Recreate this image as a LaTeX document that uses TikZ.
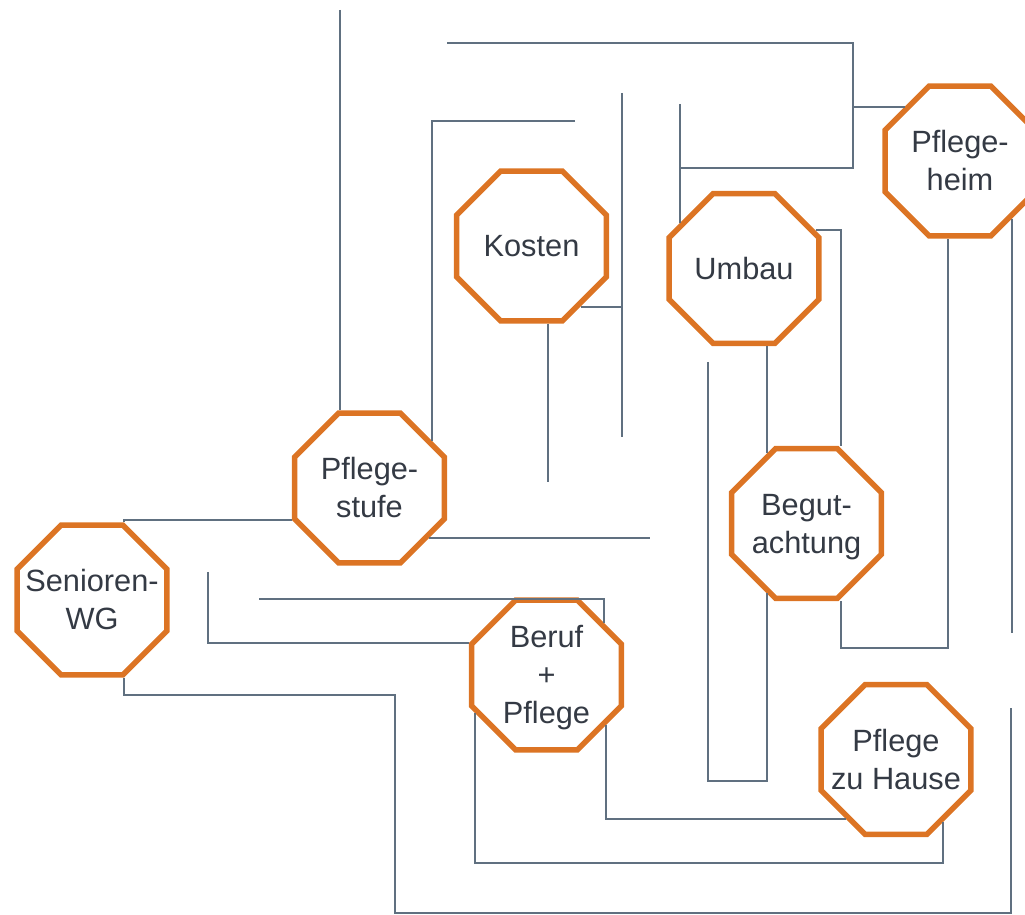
\documentclass[tikz,border=0pt]{standalone}
\usepackage{fontspec}
\setmainfont{Liberation Sans}
\usetikzlibrary{shapes.geometric}
\definecolor{octorange}{RGB}{220,116,36}
\definecolor{mazegrey}{RGB}{96,112,128}
\definecolor{labelgrey}{RGB}{52,58,68}
\newcommand{\octlabel}[1]{\makebox[0pt][c]{\raisebox{-0.35em}[0pt][0pt]{\begin{tabular}{@{}c@{}}#1\end{tabular}}}}
\begin{document}
\begin{tikzpicture}[x=0.02cm,y=-0.02cm,
	octa/.style={regular polygon,regular polygon sides=8,draw=octorange,line width=0.11cm,
		minimum size=3.24cm,inner sep=0pt,text=labelgrey,
		font=\fontsize{17.5}{21.5}\selectfont},
	wall/.style={draw=mazegrey,line width=0.04cm}]
	\useasboundingbox (0,0) rectangle (1025,915);
	\node [octa] (kosten) at (531.5,246) {\octlabel{Kosten}};
	\node [octa] (umbau) at (744,268.5) {\octlabel{Umbau}};
	\node [octa] (heim) at (960,161) {\octlabel{Pflege-\\heim}};
	\node [octa] (stufe) at (369.5,488) {\octlabel{Pflege-\\stufe}};
	\node [octa] (wg) at (92,600) {\octlabel{Senioren-\\WG}};
	\node [octa] (begut) at (806.5,523.5) {\octlabel{Begut-\\achtung}};
	\node [octa] (beruf) at (546.5,675) {\octlabel{Beruf\\+\\Pflege}};
	\node [octa] (hause) at (896,759.5) {\octlabel{Pflege\\zu Hause}};
	\coordinate (w1) at (340,10);
	\coordinate (w2a) at (447,43);
	\coordinate (w2b) at (853,168);
	\coordinate (w2c) at (853,107);
	\coordinate (w2d) at (680,104);
	\coordinate (w3a) at (575,121);
	\coordinate (w3b) at (432,121);
	\coordinate (w4a) at (622,93);
	\coordinate (w4b) at (622,437);
	\coordinate (w4c) at (622,307);
	\coordinate (w5) at (548,482);
	\coordinate (w6) at (650,538);
	\coordinate (w8) at (208,572);
	\coordinate (w9) at (259,599);
	\coordinate (w10a) at (395,695);
	\coordinate (w10b) at (1011,913);
	\coordinate (w10c) at (1011,708);
	\coordinate (w11) at (700,863);
	\coordinate (w13a) at (708,362);
	\coordinate (w13b) at (767,781);
	\coordinate (w14) at (841,648);
	\coordinate (w15) at (948,648);
	\coordinate (w16) at (1012,633);
	\draw [wall] (w1) -- (w1 |- stufe.north);
	\draw [wall] (w2a) -| (w2b) -- (w2b -| w2d);
	\draw [wall] (w2d) -- (w2d |- umbau.145);
	\draw [wall] (w2c) -- (w2c -| heim.north west);
	\draw [wall] (w3a) -- (w3b) -- (w3b |- stufe.37);
	\draw [wall] (w4a) -- (w4b);
	\draw [wall] (w4c) -- (w4c -| kosten.-51);
	\draw [wall] (kosten.south -| w5) -- (w5);
	\draw [wall] (w6 -| stufe.-40) -- (w6);
	\draw [wall] (wg.corner 1) |- (stufe.corner 4);
	\draw [wall] (w8) |- (beruf.corner 3);
	\draw [wall] (w9) -| (beruf.42);
	\draw [wall] (wg.corner 6) |- (w10a) |- (w10b) -- (w10c);
	\draw [wall] (beruf.208) |- (hause.-53 |- w11) -- (hause.-53);
	\draw [wall] (beruf.-40) |- (hause.230);
	\draw [wall] (w13a) |- (w13b) -- (w13b |- begut.240);
	\draw [wall] (umbau.south -| w13b) -- (w13b |- begut.119);
	\draw [wall] (umbau.28) -| (begut.north -| w14);
	\draw [wall] (begut.south -| w14) -- (w14) -- (w15) -- (w15 |- heim.south);
	\draw [wall] (w16 |- heim.-48) -- (w16);
\end{tikzpicture}
\end{document}
